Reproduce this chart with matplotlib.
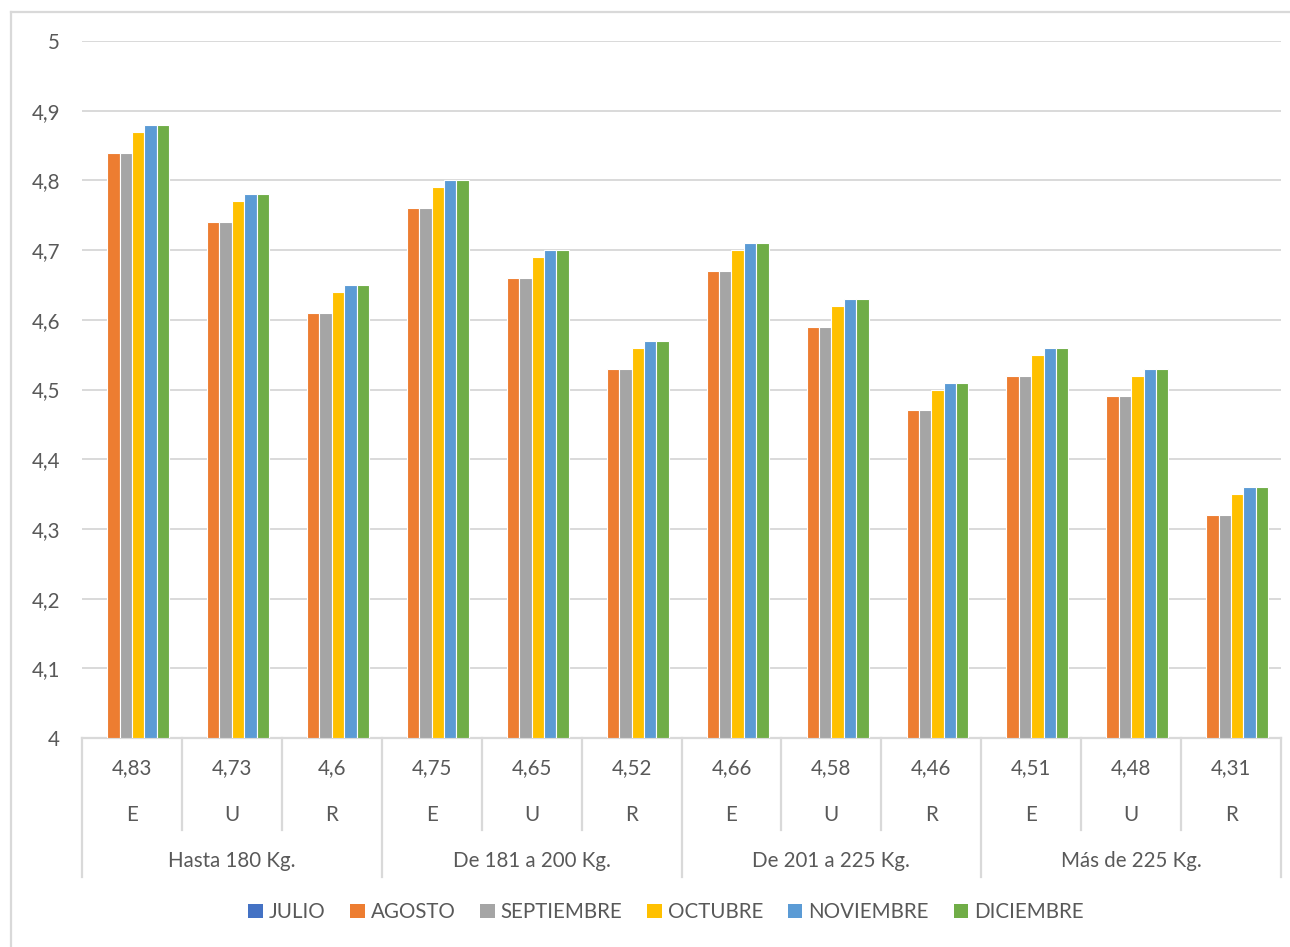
import numpy as np
import matplotlib
matplotlib.use("Agg")
import matplotlib.pyplot as plt
import matplotlib.transforms as mtransforms
from matplotlib.lines import Line2D
from matplotlib.patches import Patch

plt.rcParams['font.family'] = ['Lato', 'DejaVu Sans']

# data
groups = ["Hasta 180 Kg.", "De 181 a 200 Kg.", "De 201 a 225 Kg.", "Más de 225 Kg."]
grades = ["E", "U", "R"]
julio = [4.83, 4.73, 4.6, 4.75, 4.65, 4.52, 4.66, 4.58, 4.46, 4.51, 4.48, 4.31]
agosto = [4.84, 4.74, 4.61, 4.76, 4.66, 4.53, 4.67, 4.59, 4.47, 4.52, 4.49, 4.32]
septiembre = [4.84, 4.74, 4.61, 4.76, 4.66, 4.53, 4.67, 4.59, 4.47, 4.52, 4.49, 4.32]
octubre = [4.87, 4.77, 4.64, 4.79, 4.69, 4.56, 4.70, 4.62, 4.50, 4.55, 4.52, 4.35]
noviembre = [4.88, 4.78, 4.65, 4.80, 4.70, 4.57, 4.71, 4.63, 4.51, 4.56, 4.53, 4.36]
diciembre = [4.88, 4.78, 4.65, 4.80, 4.70, 4.57, 4.71, 4.63, 4.51, 4.56, 4.53, 4.36]

series_names = ["JULIO", "AGOSTO", "SEPTIEMBRE", "OCTUBRE", "NOVIEMBRE", "DICIEMBRE"]
series_colors = ["#4472C4", "#ED7D31", "#A5A5A5", "#FFC000", "#5B9BD5", "#70AD47"]
# JULIO goes on the category axis, its bars are not drawn
series_vals = [None, agosto, septiembre, octubre, noviembre, diciembre]

W, H = 1290, 947
fig = plt.figure(figsize=(W / 100, H / 100), dpi=100)
fig.patch.set_facecolor("white")

def fx(px):
    return px / W

def fy(py):
    return 1 - py / H

ax_l, ax_r, ax_t, ax_b = 82, 1281, 41, 738
ax = fig.add_axes([fx(ax_l), fy(ax_b), fx(ax_r) - fx(ax_l), fy(ax_t) - fy(ax_b)])

grid_col = "#D9D9D9"
text_col = "#595959"
fs = 14.8

n = len(julio)
x = np.arange(n) + 0.5
bw = 0.124
for j, (vals, col) in enumerate(zip(series_vals, series_colors)):
    if vals is None:
        continue
    ax.bar(x + (j - 2.5) * bw, np.array(vals) - 4, bottom=4, width=bw,
           color=col, edgecolor="white", linewidth=0.8, zorder=3)

ax.set_xlim(0, n)
ax.set_ylim(4, 5)
yt = np.round(np.arange(4, 5.01, 0.1), 1)
ax.set_yticks(yt)
ax.set_yticklabels([("%g" % v).replace(".", ",") for v in yt], color=text_col, fontsize=fs)
ax.tick_params(axis="y", length=0, pad=16)
ax.set_xticks([])
ax.grid(axis="y", color=grid_col, linewidth=1.4, zorder=0)
for s in ax.spines.values():
    s.set_visible(False)

# multi-level category axis
tr = mtransforms.blended_transform_factory(ax.transData, fig.transFigure)
ax.add_line(Line2D([0, n], [fy(ax_b), fy(ax_b)], transform=tr, color=grid_col, lw=1.6, clip_on=False))
for k in range(n + 1):
    bottom = 877 if k % 3 == 0 else 830
    ax.add_line(Line2D([k, k], [fy(ax_b), fy(bottom)], transform=tr, color=grid_col, lw=1.6, clip_on=False))
for i in range(n):
    ax.text(x[i], fy(768), ("%g" % julio[i]).replace(".", ","), transform=tr,
            ha="center", va="center", color=text_col, fontsize=fs)
    ax.text(x[i], fy(815), grades[i % 3], transform=tr,
            ha="center", va="center", color=text_col, fontsize=fs)
for g, name in enumerate(groups):
    ax.text(g * 3 + 1.5, fy(861), name, transform=tr,
            ha="center", va="center", color=text_col, fontsize=fs)

# chart frame (only left and top edges visible)
fig.add_artist(Line2D([fx(11), fx(11)], [fy(12), 0], color=grid_col, lw=1.6))
fig.add_artist(Line2D([fx(11), 1], [fy(12), fy(12)], color=grid_col, lw=1.6))

handles = [Patch(facecolor=c, edgecolor="none") for c in series_colors]
leg = fig.legend(handles, series_names, loc="center", bbox_to_anchor=(fx(666), fy(912)),
                 ncol=6, frameon=False, fontsize=fs, handlelength=0.7, handleheight=0.7,
                 handletextpad=0.3, columnspacing=1.2)
for t in leg.get_texts():
    t.set_color(text_col)

fig.savefig("out.png", dpi=100)
